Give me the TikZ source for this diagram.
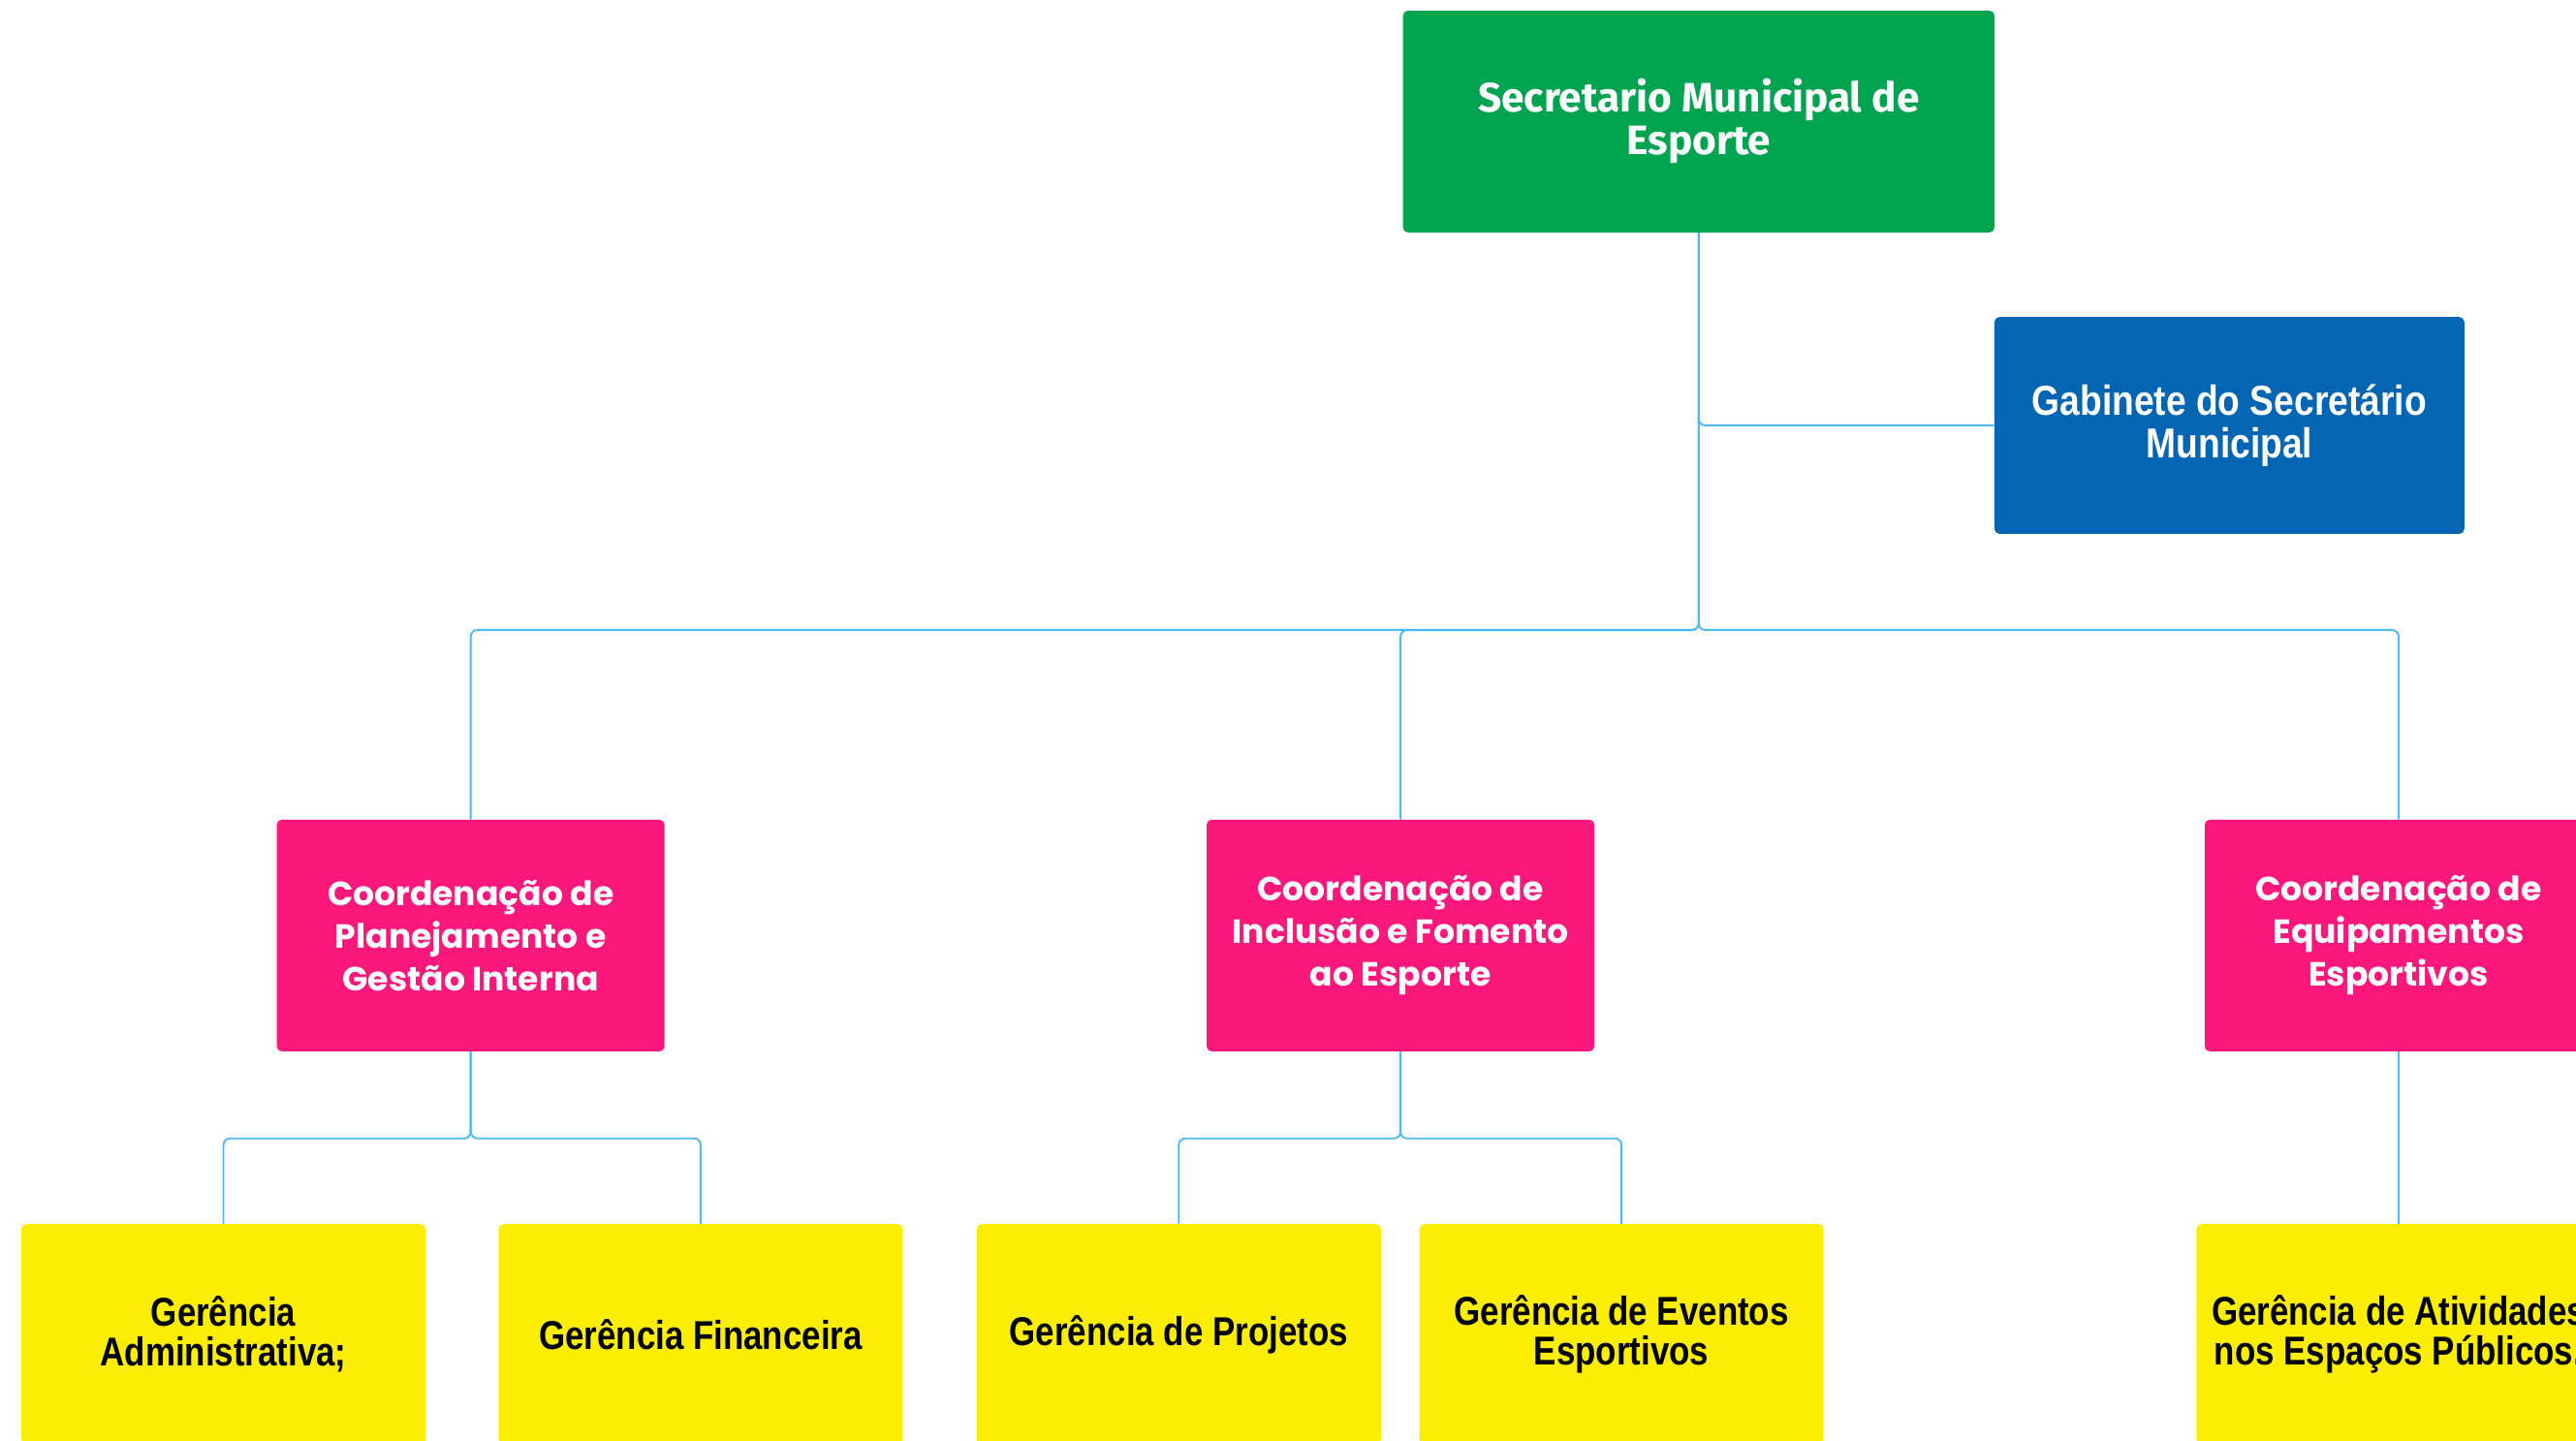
\documentclass[tikz,border=0pt]{standalone}
\usepackage{fontspec}
\newfontfamily\greenfont{Fira Sans}
\newfontfamily\bluefont[FakeStretch=0.86]{Liberation Sans}
\newfontfamily\pinkfont{Poppins}
\newfontfamily\yellowfont[FakeStretch=0.84]{Liberation Sans}
\definecolor{cgreen}{HTML}{00A34F}
\definecolor{cblue}{HTML}{0466B3}
\definecolor{cpink}{HTML}{FB187C}
\definecolor{cyellow}{HTML}{FCED05}
\definecolor{cline}{HTML}{4AB9F7}
\begin{document}
\begin{tikzpicture}[x=1pt,y=1pt,
  box/.style={rectangle,rounded corners=3pt,inner sep=0pt,align=center},
  topbox/.style={box,fill=cgreen,text=white,minimum width=360pt,minimum height=135pt,font=\greenfont\bfseries\fontsize{25}{26}\selectfont},
  gabbox/.style={box,fill=cblue,text=white,minimum width=286pt,minimum height=132pt,font=\bluefont\bfseries\fontsize{25.5}{26}\selectfont},
  coordbox/.style={box,fill=cpink,text=white,minimum width=236pt,minimum height=141pt,font=\pinkfont\bfseries\fontsize{20.4}{26}\selectfont},
  gerbox/.style={box,fill=cyellow,text=black,minimum width=246pt,minimum height=134pt,font=\yellowfont\bfseries\fontsize{24.5}{24}\selectfont},
  conn/.style={draw=cline,line width=1.1pt,rounded corners=4pt}]
\useasboundingbox (0,0) rectangle (1568,-877);
\clip (0,0) rectangle (1568,-877);
\node[topbox] (sec) at (1034,-74) {Secretario Municipal de\\Esporte};
\node[gabbox] (gab) at (1357,-259) {Gabinete do Secretário\\Municipal};
\node[coordbox] (p1) at (286.5,-569.5) {Coordenação de\\Planejamento e\\Gestão Interna};
\node[coordbox] (p2) at (852.5,-569.5) {Coordenação de\\Inclusão e Fomento\\ao Esporte};
\node[coordbox] (p3) at (1460,-569.5) {Coordenação de\\Equipamentos\\Esportivos};
\node[gerbox,anchor=north] (g1) at (136,-745) {Gerência\\Administrativa;};
\node[gerbox,anchor=north] (g2) at (426.5,-745) {Gerência Financeira};
\node[gerbox,anchor=north] (g3) at (717.5,-745) {Gerência de Projetos};
\node[gerbox,anchor=north] (g4) at (987,-745) {Gerência de Eventos\\Esportivos};
\node[gerbox,anchor=north] (g5) at (1460,-745) {Gerência de Atividades\\nos Espaços Públicos.};
\coordinate (bus) at (0,-383.5);
\coordinate (bus1) at (0,-693);
\draw[conn] (sec.south) -- (sec.south |- gab.west) -- (gab.west);
\draw[conn] (sec.south) -- (sec.south |- bus) -| (p1.north);
\draw[conn] (sec.south) -- (sec.south |- bus) -| (p2.north);
\draw[conn] (sec.south) -- (sec.south |- bus) -| (p3.north);
\draw[conn] (p1.south) -- (p1.south |- bus1) -| (g1.north);
\draw[conn] (p1.south) -- (p1.south |- bus1) -| (g2.north);
\draw[conn] (p2.south) -- (p2.south |- bus1) -| (g3.north);
\draw[conn] (p2.south) -- (p2.south |- bus1) -| (g4.north);
\draw[conn] (p3.south) -- (g5.north);
\end{tikzpicture}
\end{document}
